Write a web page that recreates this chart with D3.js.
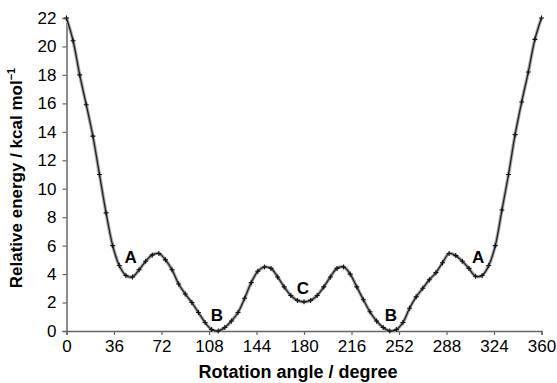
<!DOCTYPE html>
<html lang="en">
<head>
  <meta charset="utf-8">
  <title>Rotation energy profile</title>
  <style>
    body { margin: 0; background: #fff; }
    text { font-family: "Liberation Sans", Arial, sans-serif; }
  </style>
  <script src="https://d3js.org/d3.v7.min.js"></script>
</head>
<body>
<svg width="557" height="383"></svg>
<script>
  // rotation angle (degree) and relative energy (kcal/mol)
  var angles = d3.range(0, 361, 5);
  var energy = [22.0, 20.4, 18.0, 15.9, 13.7, 11.0, 8.3, 6.0, 4.6, 3.9,
                3.8, 4.3, 4.9, 5.35, 5.45, 5.0, 4.3, 3.3, 2.6, 2.0,
                1.3, 0.6, 0.1, 0.0, 0.25, 0.7, 1.3, 2.3, 3.4, 4.2,
                4.5, 4.4, 3.8, 3.1, 2.5, 2.15, 2.05, 2.15, 2.5, 3.1,
                3.8, 4.4, 4.5, 4.0, 3.1, 2.2, 1.35, 0.7, 0.25, 0.0,
                0.1, 0.6, 1.6, 2.4, 3.0, 3.6, 4.1, 4.8, 5.45, 5.3,
                4.9, 4.4, 3.85, 3.9, 4.6, 6.0, 8.5, 11.0, 13.8, 16.1,
                18.2, 20.5, 22.0];
  var xTicks = d3.range(0, 361, 36);
  var yTicks = d3.range(0, 23, 2);
  // conformer labels
  var labelText = ["A", "B", "C", "B", "A"];
  var labelAngle = [48.7, 113.9, 179.1, 245.9, 311.9];
  var labelEnergy = [5.15, 1.07, 2.97, 1.07, 5.15];

  var data = angles.map(function(a, i) { return {a: a, e: energy[i]}; });

  var svg = d3.select("svg");
  var x = d3.scaleLinear().domain([0, 360]).range([66.5, 541.5]);
  var y = d3.scaleLinear().domain([0, 22]).range([331, 18]);

  var axisColor = "#666";

  var gx = svg.append("g")
    .attr("transform", "translate(0,331)")
    .call(d3.axisBottom(x).tickValues(xTicks).tickSize(4).tickPadding(5));
  var gy = svg.append("g")
    .attr("transform", "translate(66.5,0)")
    .call(d3.axisLeft(y).tickValues(yTicks).tickSize(4).tickPadding(6));

  [gx, gy].forEach(function(g) {
    g.select(".domain").attr("stroke", axisColor).attr("stroke-width", 1.5);
    g.selectAll(".tick line").attr("stroke", axisColor).attr("stroke-width", 1.2);
    g.selectAll(".tick text")
      .attr("fill", "#000")
      .style("font-size", "17px")
      .style("font-family", "'Liberation Sans', Arial, sans-serif");
  });

  var line = d3.line()
    .x(function(d) { return x(d.a); })
    .y(function(d) { return y(d.e); })
    .curve(d3.curveCatmullRom.alpha(0.5));

  // scanned-looking line: grey halo with dark core
  svg.append("path").datum(data)
    .attr("d", line)
    .attr("fill", "none")
    .attr("stroke", "#aaa")
    .attr("stroke-width", 3.4);
  svg.append("path").datum(data)
    .attr("d", line)
    .attr("fill", "none")
    .attr("stroke", "#222")
    .attr("stroke-width", 1.3);

  svg.selectAll(".pt")
    .data(data)
    .enter().append("path")
    .attr("class", "pt")
    .attr("transform", function(d) { return "translate(" + x(d.a) + "," + y(d.e) + ")"; })
    .attr("d", "M-2.5,0H2.5M0,-2.5V2.5")
    .attr("stroke", "#111")
    .attr("stroke-width", 1.1);

  svg.selectAll(".lbl")
    .data(labelText)
    .enter().append("text")
    .attr("class", "lbl")
    .attr("x", function(d, i) { return x(labelAngle[i]); })
    .attr("y", function(d, i) { return y(labelEnergy[i]); })
    .attr("text-anchor", "middle")
    .attr("dominant-baseline", "central")
    .style("font-size", "17px")
    .style("font-weight", "bold")
    .text(function(d) { return d; });

  svg.append("text")
    .attr("x", 298)
    .attr("y", 378)
    .attr("text-anchor", "middle")
    .style("font-size", "18px")
    .style("font-weight", "bold")
    .text("Rotation angle / degree");

  var yt = svg.append("text")
    .attr("transform", "translate(22,178) rotate(-90)")
    .attr("text-anchor", "middle")
    .style("font-size", "17px")
    .style("font-weight", "bold");
  yt.append("tspan").text("Relative energy / kcal mol");
  yt.append("tspan").attr("dy", -7).style("font-size", "11px").text("\u22121");
</script>
</body>
</html>
